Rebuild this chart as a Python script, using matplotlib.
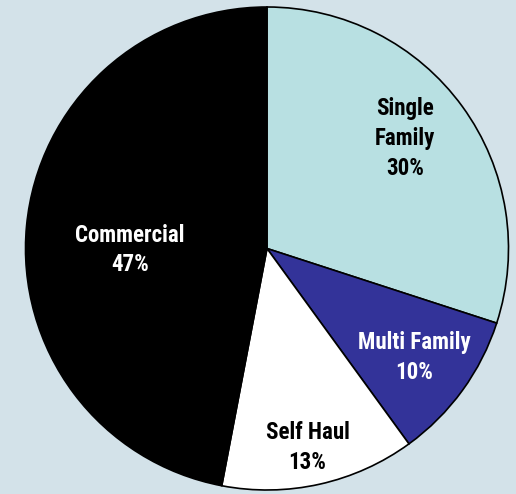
import matplotlib
matplotlib.use("Agg")
from matplotlib import pyplot as plt

labels = ["Single\nFamily", "Multi Family", "Self Haul", "Commercial"]
shares = [30, 10, 13, 47]
colors = ["#b8e0e2", "#333399", "#ffffff", "#000000"]
text_colors = ["black", "white", "black", "white"]
# label centres, in pie radii from the centre
label_xy = [(0.571, 0.455), (0.611, -0.453), (0.168, -0.824), (-0.567, -0.006)]

plt.rcParams['font.family'] = ['Roboto Condensed', 'Liberation Sans', 'DejaVu Sans']

fig = plt.figure(figsize=(5.16, 4.94), dpi=100)
fig.patch.set_facecolor("#d3e2e9")
ax = fig.add_axes([0, 0, 1, 1])
ax.set_facecolor("#d3e2e9")

r_px = 241.5
cx, cy = 267, 248.5
wedges, _ = ax.pie(shares, colors=colors, startangle=90, counterclock=False,
                   wedgeprops=dict(edgecolor="black", linewidth=1.2))

for lab, s, tc, (x, y) in zip(labels, shares, text_colors, label_xy):
    ax.text(x, y, f"{lab}\n{s}%", ha="center", va="center",
            color=tc, fontsize=16.5, fontweight="bold", linespacing=1.38)

ax.set_aspect("auto")
ax.set_xlim(-cx / r_px, (516 - cx) / r_px)
ax.set_ylim(-(494 - cy) / r_px, cy / r_px)
ax.axis("off")

plt.savefig("out.png", dpi=100, facecolor=fig.get_facecolor())
